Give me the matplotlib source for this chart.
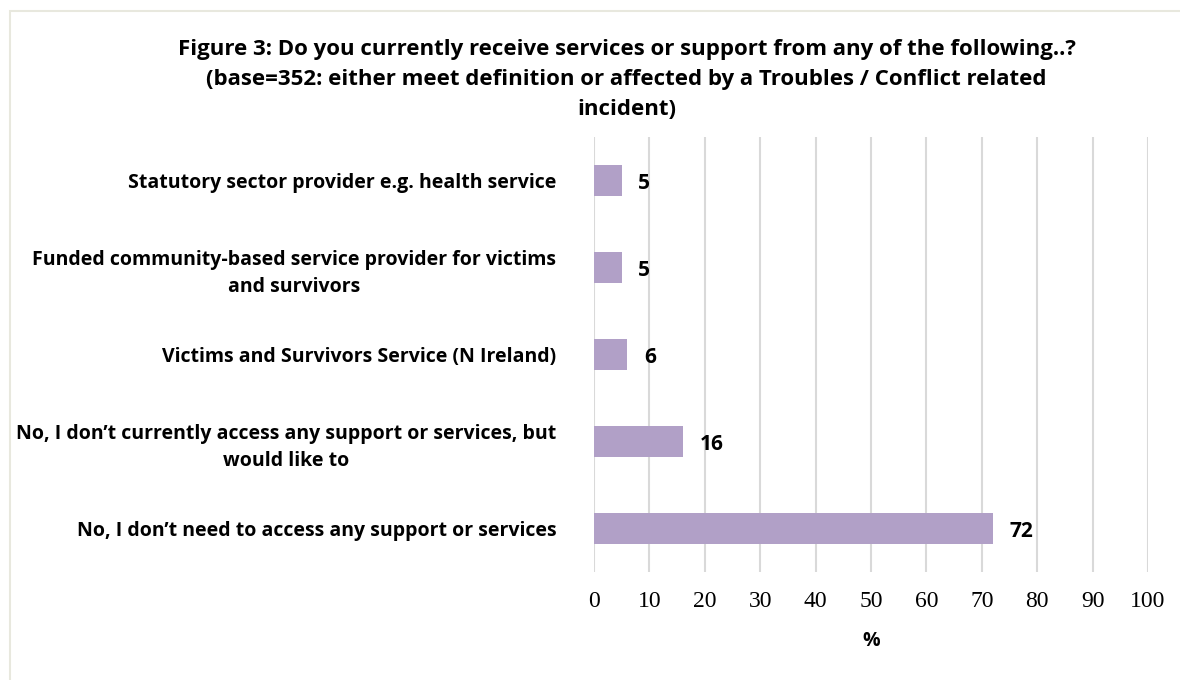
import matplotlib.pyplot as plt
from matplotlib.patches import Rectangle

# Survey responses, top to bottom as shown
categories = [
    "Statutory sector provider e.g. health service",
    "Funded community-based service provider for victims\nand survivors",
    "Victims and Survivors Service (N Ireland)",
    "No, I don\u2019t currently access any support or services, but\nwould like to",
    "No, I don\u2019t need to access any support or services",
]
values = [5, 5, 6, 16, 72]
x_ticks = list(range(0, 101, 10))

title = ("Figure 3: Do you currently receive services or support from any of the following..?\n"
         "(base=352: either meet definition or affected by a Troubles / Conflict related\n"
         "incident)")

bar_color = "#B1A0C7"
sans = ["Open Sans", "DejaVu Sans"]
serif = ["Liberation Serif", "DejaVu Serif"]

fig = plt.figure(figsize=(11.8, 6.8), dpi=100)
ax = fig.add_axes([594 / 1180, 1 - 572 / 680, 554 / 1180, 435 / 680])

# light frame around the chart area
fig.patches.append(Rectangle((10 / 1180, -0.1), 1.2, 1 - 11 / 680 + 0.1,
                             transform=fig.transFigure, fill=False,
                             edgecolor="#E8E8DE", linewidth=1.5))

y_pos = list(range(len(categories)))
ax.barh(y_pos, values, height=0.345, color=bar_color)
ax.set_ylim(len(categories) - 0.5, -0.5)
ax.set_xlim(0, 100)

for y, v in zip(y_pos, values):
    ax.annotate(str(v), (v, y), xytext=(12, -2), textcoords="offset points",
                ha="left", va="center", fontsize=15, fontweight="bold", family=sans)

ax.set_yticks(y_pos)
ax.set_yticklabels(categories, fontsize=14, fontweight="bold", family=sans,
                   ha="right", multialignment="center", linespacing=1.45)
ax.set_xticks(x_ticks)
ax.set_xticklabels([str(t) for t in x_ticks], fontsize=17, family=serif)
ax.tick_params(axis="y", length=0, pad=27)
ax.tick_params(axis="x", length=0, pad=14)

ax.grid(axis="x", color="#D9D9D9", linewidth=1.5)
ax.set_axisbelow(True)
for s in ax.spines.values():
    s.set_visible(False)

ax.set_xlabel("%", fontsize=14, fontweight="bold", family=sans, labelpad=13)

fig.text(0.531, 0.943, title, ha="center", va="top", fontsize=16,
         fontweight="bold", family=sans, linespacing=1.58)

fig.savefig("out.png", dpi=100)
